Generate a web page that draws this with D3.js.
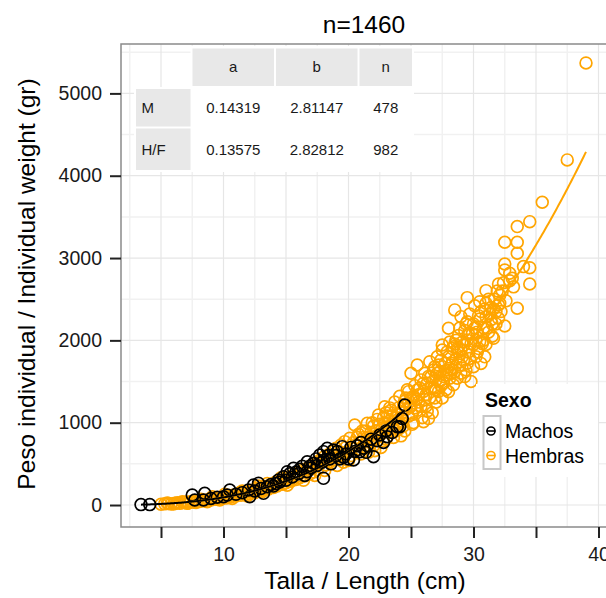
<!DOCTYPE html>
<html>
<head>
<meta charset="utf-8">
<script src="https://cdn.jsdelivr.net/npm/d3@7"></script>
<style>
  body { margin: 0; background: #fff; }
  svg { display: block; font-family: "Liberation Sans", Arial, Helvetica, sans-serif; }
</style>
</head>
<body>
<svg id="chart" width="606" height="598"></svg>
<script>
// sexes, colours and the fitted W = a * L^b table
const sexos = ['Machos', 'Hembras'];
const colores = ['#000000', '#FFA500'];
const filasTabla = ['M', 'H/F'];
const columnasTabla = ['a', 'b', 'n'];
const paramA = [0.14319, 0.13575];
const paramB = [2.81147, 2.82812];
const nPeces = [478, 982];

const xTicks = [5, 10, 15, 20, 25, 30, 35, 40];
const xLabels = [10, 20, 30, 40];
const yTicks = [0, 1000, 2000, 3000, 4000, 5000];

// [talla cm, peso gr] (a sample of the cloud)
const machos = [
  [3.4, 5], [4.1, 5], [7.5, 121], [7.7, 61], [8.4, 61], [8.5, 142], [9.0, 80], [9.5, 95],
  [10.0, 100], [10.3, 121], [10.5, 182], [11.0, 130], [11.5, 150], [12.0, 182], [12.1, 101],
  [12.4, 243], [12.5, 170], [12.8, 264], [13.0, 200], [13.2, 142], [13.5, 222], [13.8, 250],
  [14.0, 230], [14.2, 260], [14.4, 304], [14.5, 280], [14.8, 344], [15.0, 300], [15.1, 405],
  [15.3, 380], [15.5, 340], [15.6, 446], [15.8, 400], [16.0, 380], [16.1, 434], [16.3, 470],
  [16.5, 360], [16.7, 405], [16.7, 526], [16.9, 470], [17.0, 450], [17.2, 507], [17.4, 560],
  [17.5, 480], [17.7, 608], [17.9, 520], [18.0, 648], [18.0, 324], [18.0, 540], [18.3, 689],
  [18.4, 600], [18.5, 560], [18.6, 500], [18.8, 668], [19.0, 600], [19.1, 650], [19.3, 560],
  [19.5, 709], [19.6, 580], [19.8, 620], [20.0, 560], [20.2, 700], [20.4, 547], [20.5, 650],
  [20.7, 720], [20.9, 648], [21.0, 760], [21.2, 690], [21.4, 640], [21.5, 720], [21.8, 800],
  [22.0, 587], [22.3, 780], [22.5, 850], [22.8, 760], [23.0, 900], [23.1, 830], [23.5, 880],
  [23.9, 951], [24.1, 951], [24.3, 1050], [24.5, 1215]
];

const hembras = [
  [5.0, 10], [5.3, 14], [5.5, 25], [5.6, 18], [5.8, 12], [6.0, 12], [6.1, 22], [6.3, 28],
  [6.5, 20], [6.7, 40], [6.8, 30], [7.0, 36], [7.1, 20], [7.2, 26], [7.4, 42], [7.6, 34],
  [7.8, 30], [7.9, 50], [8.1, 44], [8.2, 70], [8.3, 58], [8.5, 48], [8.7, 40], [8.8, 66],
  [9.0, 60], [9.1, 100], [9.2, 78], [9.4, 70], [9.6, 86], [9.7, 60], [9.8, 74], [10.0, 96],
  [10.1, 130], [10.2, 84], [10.4, 108], [10.6, 98], [10.7, 80], [10.8, 122], [11.0, 110],
  [11.2, 132], [11.3, 150], [11.4, 118], [11.5, 170], [11.6, 146], [11.8, 128], [11.9, 110],
  [12.0, 160], [12.1, 138], [12.3, 176], [12.5, 150], [12.6, 200], [12.7, 190], [12.8, 230],
  [12.9, 166], [13.0, 210], [13.1, 160], [13.2, 180], [13.4, 226], [13.5, 260], [13.6, 196],
  [13.7, 210], [13.8, 248], [14.0, 214], [14.1, 270], [14.2, 280], [14.3, 232], [14.5, 292],
  [14.6, 330], [14.7, 252], [14.8, 260], [14.9, 318], [15.0, 270], [15.1, 240], [15.2, 340],
  [15.3, 300], [15.4, 290], [15.6, 366], [15.8, 310], [15.9, 350], [16.0, 392], [16.1, 332],
  [16.3, 420], [16.4, 300], [16.5, 352], [16.6, 400], [16.7, 448], [16.9, 378], [17.0, 480],
  [17.1, 440], [17.2, 400], [17.3, 360], [17.4, 512], [17.5, 430], [17.6, 500], [17.7, 544],
  [17.9, 458], [18.0, 580], [18.1, 420], [18.2, 488], [18.3, 540], [18.4, 612], [18.5, 520],
  [18.7, 650], [18.8, 600], [18.9, 552], [19.0, 690], [19.1, 480], [19.2, 580], [19.3, 640],
  [19.4, 730], [19.5, 612], [19.6, 520], [19.7, 770], [19.8, 700], [19.9, 648], [20.0, 540],
  [20.1, 810], [20.2, 600], [20.3, 690], [20.4, 760], [20.5, 972], [20.6, 730], [20.7, 820],
  [20.8, 860], [20.9, 680], [21.0, 620], [21.0, 760], [21.1, 900], [21.2, 820], [21.3, 700],
  [21.4, 900], [21.5, 993], [21.5, 820], [21.6, 640], [21.7, 720], [21.8, 880], [21.8, 760],
  [21.9, 1000], [22.0, 720], [22.0, 960], [22.1, 800], [22.1, 660], [22.2, 900], [22.3, 1040],
  [22.4, 1094], [22.4, 860], [22.5, 980], [22.6, 700], [22.6, 860], [22.7, 940], [22.8, 1060],
  [22.8, 780], [22.9, 1194], [22.9, 1000], [23.0, 800], [23.0, 1120], [23.1, 1080], [23.1, 950],
  [23.2, 900], [23.3, 1020], [23.3, 1180], [23.4, 1150], [23.5, 980], [23.5, 1080], [23.6, 820],
  [23.7, 1250], [23.8, 1060], [23.8, 900], [23.9, 1100], [24.0, 920], [24.0, 1180], [24.0, 1000],
  [24.1, 1320], [24.2, 840], [24.2, 1060], [24.3, 1000], [24.3, 1120], [24.4, 1220], [24.4, 960],
  [24.5, 1260], [24.5, 900], [24.6, 1160], [24.6, 1300], [24.7, 1400], [24.8, 1377], [24.8, 1080],
  [24.9, 1200], [25.0, 1200], [25.0, 1600], [25.0, 1300], [25.1, 980], [25.1, 1100], [25.2, 1320],
  [25.2, 1000], [25.3, 1450], [25.3, 1180], [25.4, 1280], [25.5, 1397], [25.5, 1701], [25.5, 1150],
  [25.6, 1250], [25.6, 1340], [25.7, 1420], [25.8, 1520], [25.8, 1200], [25.9, 1060], [26.0, 1012],
  [26.0, 1380], [26.0, 1480], [26.1, 1600], [26.1, 1280], [26.2, 1200], [26.2, 1340], [26.3, 1480],
  [26.3, 1140], [26.4, 1050], [26.4, 1560], [26.5, 1741], [26.5, 1300], [26.6, 1560], [26.6, 1420],
  [26.7, 1120], [26.8, 1420], [26.8, 1640], [26.9, 1680], [26.9, 1300], [27.0, 1250], [27.0, 1520],
  [27.0, 1400], [27.1, 1800], [27.1, 1600], [27.2, 1380], [27.2, 1700], [27.3, 1620], [27.3, 1500],
  [27.4, 1450], [27.4, 1760], [27.5, 1944], [27.5, 1883], [27.5, 1300], [27.6, 1560], [27.6, 1480],
  [27.7, 1720], [27.8, 1400], [27.8, 1580], [27.9, 1640], [27.9, 1860], [28.0, 1377], [28.0, 1800],
  [28.0, 2147], [28.1, 1540], [28.1, 1980], [28.2, 1700], [28.2, 1600], [28.3, 1900], [28.3, 1720],
  [28.3, 1640], [28.4, 1923], [28.4, 1460], [28.5, 1620], [28.5, 2370], [28.5, 1956], [28.6, 1780],
  [28.6, 2000], [28.7, 1540], [28.7, 1900], [28.8, 2060], [28.8, 1860], [28.9, 1700], [28.9, 2150],
  [29.0, 1880], [29.0, 2288], [29.0, 1600], [29.1, 1980], [29.1, 1800], [29.2, 1760], [29.2, 1940],
  [29.3, 2120], [29.3, 1560], [29.4, 1640], [29.4, 2200], [29.5, 2227], [29.5, 2005], [29.5, 1722],
  [29.5, 2519], [29.6, 1860], [29.6, 2080], [29.7, 2320], [29.7, 1780], [29.8, 1500], [29.8, 1960],
  [29.9, 2080], [30.0, 1680], [30.0, 1950], [30.0, 2200], [30.1, 2420], [30.1, 2150], [30.2, 1800],
  [30.2, 2000], [30.3, 2100], [30.3, 1860], [30.4, 1900], [30.4, 2300], [30.5, 2470], [30.5, 1985],
  [30.5, 2260], [30.6, 1720], [30.6, 2350], [30.7, 1960], [30.8, 2150], [30.8, 2000], [30.9, 2380],
  [30.9, 1800], [31.0, 2604], [31.0, 2288], [31.0, 1950], [31.0, 2450], [31.1, 2150], [31.2, 2100],
  [31.2, 2500], [31.3, 2320], [31.4, 2400], [31.4, 2250], [31.5, 2200], [31.5, 2050], [31.6, 2025],
  [31.6, 2380], [31.7, 2500], [31.8, 2350], [31.8, 2200], [31.9, 2600], [32.0, 2685], [32.0, 2430],
  [32.0, 2268], [32.1, 2550], [32.1, 2450], [32.2, 2350], [32.3, 2600], [32.4, 2700], [32.5, 3192],
  [32.5, 2928], [32.5, 2855], [32.5, 2175], [32.6, 2480], [32.9, 2815], [32.9, 2725], [33.1, 2755],
  [33.2, 2650], [33.5, 3382], [33.5, 3192], [33.5, 3058], [33.5, 2390], [34.0, 2896], [34.5, 2883],
  [34.5, 2685], [34.5, 3442], [35.5, 3678], [37.5, 4192], [39.0, 5370]
];

const svg = d3.select('#chart');
const panel = { left: 121, top: 44, right: 620, bottom: 527 };

const x = d3.scaleLinear().domain([1.8, 41.72]).range([panel.left, panel.right]);
const y = d3.scaleLinear().domain([-267, 5600]).range([panel.bottom, panel.top]);

svg.append('clipPath').attr('id', 'clip')
  .append('rect')
  .attr('x', panel.left).attr('y', panel.top)
  .attr('width', panel.right - panel.left).attr('height', panel.bottom - panel.top);

const plot = svg.append('g').attr('clip-path', 'url(#clip)');

//grid, minor then major
const xMinor = d3.range(2.5, 42, 5);
const yMinor = d3.range(500, 5600, 1000);
plot.selectAll('.vmin').data(xMinor).join('line')
  .attr('x1', (d) => x(d)).attr('x2', (d) => x(d))
  .attr('y1', panel.top).attr('y2', panel.bottom)
  .attr('stroke', '#f1f1f1').attr('stroke-width', 1.5);
plot.selectAll('.hmin').data(yMinor).join('line')
  .attr('y1', (d) => y(d)).attr('y2', (d) => y(d))
  .attr('x1', panel.left).attr('x2', panel.right)
  .attr('stroke', '#f1f1f1').attr('stroke-width', 1.5);
plot.selectAll('.vmaj').data(xTicks).join('line')
  .attr('x1', (d) => x(d)).attr('x2', (d) => x(d))
  .attr('y1', panel.top).attr('y2', panel.bottom)
  .attr('stroke', '#e6e6e6').attr('stroke-width', 1.2);
plot.selectAll('.hmaj').data(yTicks).join('line')
  .attr('y1', (d) => y(d)).attr('y2', (d) => y(d))
  .attr('x1', panel.left).attr('x2', panel.right)
  .attr('stroke', '#e6e6e6').attr('stroke-width', 1.2);

//points
[hembras, machos].forEach((datos, k) => {
  const i = k === 0 ? 1 : 0;
  plot.append('g').selectAll('circle').data(datos).join('circle')
    .attr('cx', (d) => x(d[0]))
    .attr('cy', (d) => y(d[1]))
    .attr('r', 5.9)
    .attr('fill', 'none')
    .attr('stroke', colores[i])
    .attr('stroke-width', 1.7);
});

//fitted curves W = a L^b over each sex's length range
const line = d3.line().x((d) => x(d[0])).y((d) => y(d[1])).curve(d3.curveLinear);
[1, 0].forEach((i) => {
  const datos = i === 0 ? machos : hembras;
  const [lo, hi] = d3.extent(datos, (d) => d[0]);
  const tallas = d3.range(lo, hi, 0.1).concat([hi]);
  plot.append('path')
    .datum(tallas.map((l) => [l, paramA[i] * Math.pow(l, paramB[i])]))
    .attr('fill', 'none')
    .attr('stroke', colores[i])
    .attr('stroke-width', 2)
    .attr('d', line);
});

//table inset
const tabla = svg.append('g');
const colX = [[192.5, 274], [276, 357.5], [359.5, 412]];
const rowY = [[89, 126.5], [128.5, 170]];
tabla.append('rect').attr('x', 134).attr('y', 87).attr('width', 280).attr('height', 85).attr('fill', '#fff');
tabla.append('rect').attr('x', 190.5).attr('y', 46).attr('width', 223.5).attr('height', 42).attr('fill', '#fff');
columnasTabla.forEach((c, j) => {
  tabla.append('rect')
    .attr('x', colX[j][0]).attr('y', 48.5)
    .attr('width', colX[j][1] - colX[j][0]).attr('height', 37.5)
    .attr('fill', '#e8e8e8');
  tabla.append('text')
    .attr('x', (colX[j][0] + colX[j][1]) / 2).attr('y', 72)
    .attr('text-anchor', 'middle').attr('font-size', 15).attr('fill', '#1a1a1a')
    .text(c);
});
filasTabla.forEach((f, i) => {
  tabla.append('rect')
    .attr('x', 136).attr('y', rowY[i][0])
    .attr('width', 54.5).attr('height', rowY[i][1] - rowY[i][0])
    .attr('fill', '#e8e8e8');
  const base = (rowY[i][0] + rowY[i][1]) / 2 + 5.3;
  tabla.append('text')
    .attr('x', 141.5).attr('y', base)
    .attr('font-size', 15).attr('fill', '#1a1a1a')
    .text(f);
  const valores = [paramA[i].toFixed(5), paramB[i].toFixed(5), String(nPeces[i])];
  valores.forEach((v, j) => {
    tabla.append('text')
      .attr('x', (colX[j][0] + colX[j][1]) / 2).attr('y', base)
      .attr('text-anchor', 'middle').attr('font-size', 15).attr('fill', '#1a1a1a')
      .text(v);
  });
});

//legend
const leg = svg.append('g');
leg.append('rect').attr('x', 476).attr('y', 384).attr('width', 122).attr('height', 93).attr('fill', '#fff');
leg.append('text').attr('x', 485).attr('y', 406.5)
  .attr('font-size', 19.5).attr('font-weight', 'bold').attr('fill', '#000').text('Sexo');
leg.append('rect').attr('x', 483.5).attr('y', 416).attr('width', 17).attr('height', 53)
  .attr('fill', '#fff').attr('stroke', '#c8c8c8').attr('stroke-width', 2);
sexos.forEach((s, i) => {
  const cy = 431 + i * 24.5;
  leg.append('circle').attr('cx', 491).attr('cy', cy).attr('r', 4)
    .attr('fill', 'none').attr('stroke', colores[i]).attr('stroke-width', 1.6);
  leg.append('line').attr('x1', 486.5).attr('x2', 495.5).attr('y1', cy).attr('y2', cy)
    .attr('stroke', colores[i]).attr('stroke-width', 1.6);
  leg.append('text').attr('x', 505).attr('y', cy + 7)
    .attr('font-size', 19.5).attr('fill', '#000').text(s);
});

//panel border
svg.append('rect')
  .attr('x', panel.left).attr('y', panel.top)
  .attr('width', panel.right - panel.left).attr('height', panel.bottom - panel.top)
  .attr('fill', 'none').attr('stroke', '#8a8a8a').attr('stroke-width', 1.5);

//axes
const xAxis = (g) =>
  g.attr('transform', `translate(0,${panel.bottom})`)
    .call(d3.axisBottom(x).tickValues(xTicks).tickSize(11).tickPadding(9)
      .tickFormat((d) => (xLabels.includes(d) ? d : '')))
    .call((g) => g.select('.domain').remove())
    .call((g) => g.selectAll('.tick line').attr('stroke', '#222').attr('stroke-width', 2))
    .call((g) => g.selectAll('.tick text').attr('font-size', 19.5).attr('fill', '#1a1a1a')
      .attr('font-family', 'Liberation Sans, Arial, sans-serif'));

const yAxis = (g) =>
  g.attr('transform', `translate(${panel.left},0)`)
    .call(d3.axisLeft(y).tickValues(yTicks).tickSize(11).tickPadding(8).tickFormat(d3.format('d')))
    .call((g) => g.select('.domain').remove())
    .call((g) => g.selectAll('.tick line').attr('stroke', '#222').attr('stroke-width', 2))
    .call((g) => g.selectAll('.tick text').attr('font-size', 19.5).attr('fill', '#1a1a1a')
      .attr('font-family', 'Liberation Sans, Arial, sans-serif'));

svg.append('g').call(xAxis);
svg.append('g').call(yAxis);

//titles
svg.append('text').attr('x', 364).attr('y', 33).attr('text-anchor', 'middle')
  .attr('font-size', 24.5).attr('fill', '#000').text('n=' + d3.sum(nPeces));
svg.append('text').attr('x', 365).attr('y', 589).attr('text-anchor', 'middle')
  .attr('font-size', 24.5).attr('fill', '#000').text('Talla / Length (cm)');
svg.append('text').attr('transform', 'translate(35,284) rotate(-90)').attr('text-anchor', 'middle')
  .attr('font-size', 24.5).attr('fill', '#000').text('Peso individual / Individual weight (gr)');
</script>
</body>
</html>
